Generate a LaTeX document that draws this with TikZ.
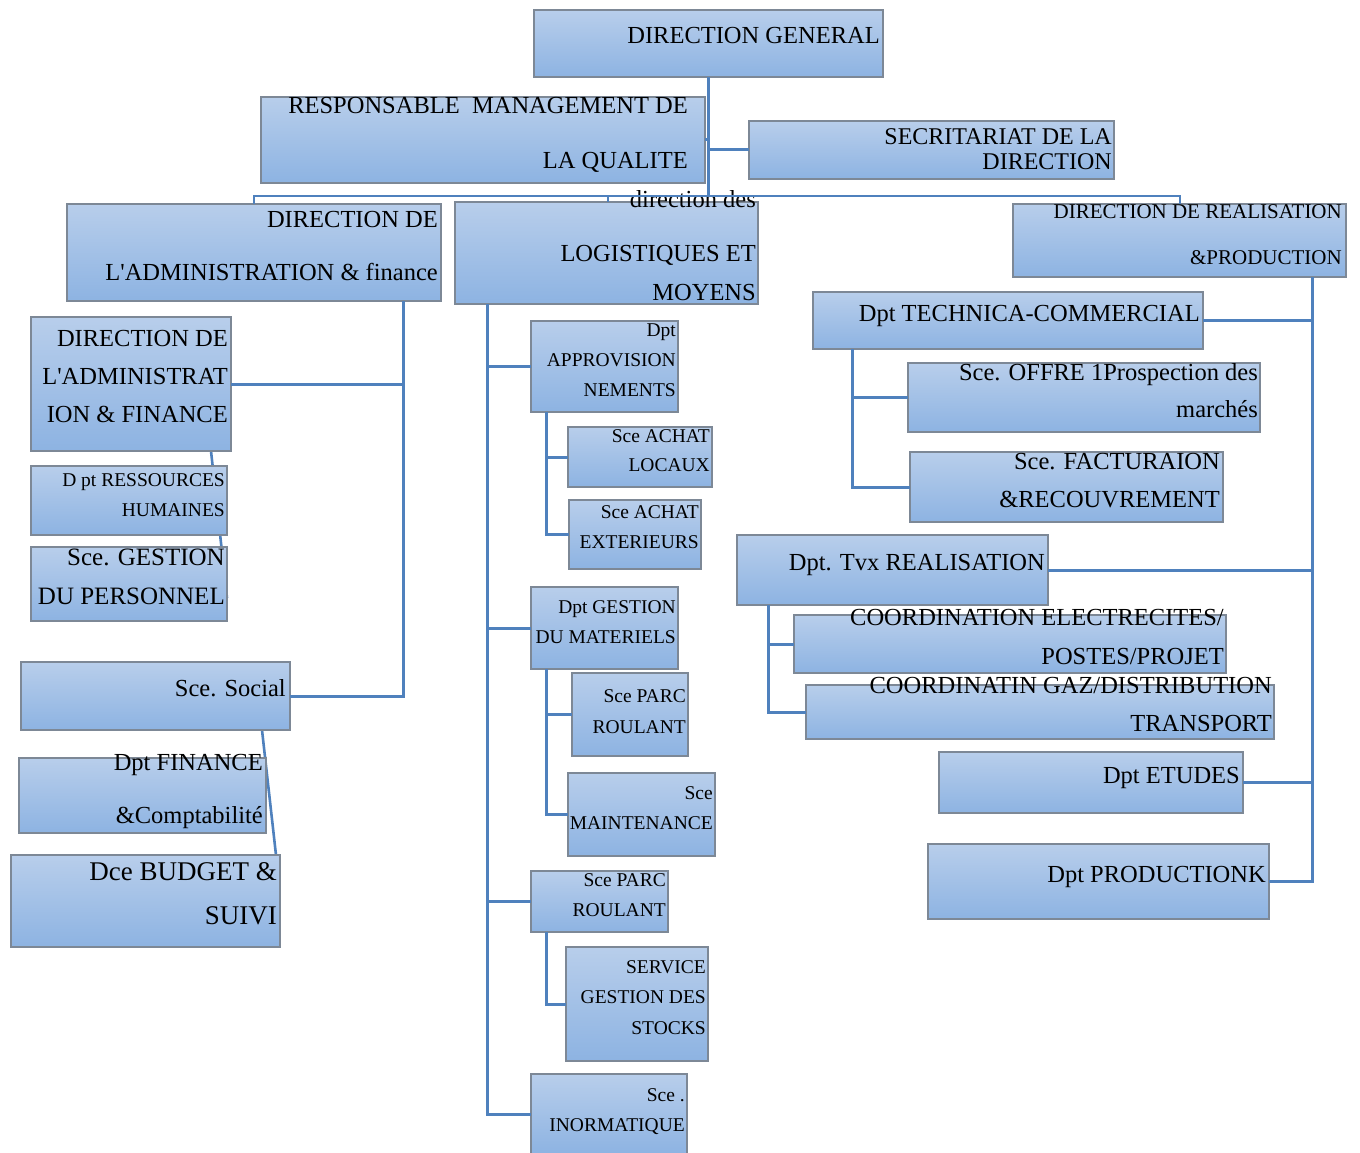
\documentclass[tikz,border=0pt]{standalone}
\usepackage{fontspec}
\setmainfont{Liberation Serif}[Ligatures=ResetAll]
\usetikzlibrary{fit,backgrounds}
\definecolor{linkblue}{RGB}{79,129,189}
\definecolor{boxtop}{RGB}{184,206,235}
\definecolor{boxbot}{RGB}{141,179,226}
\definecolor{boxedge}{RGB}{125,136,150}
\newcommand\fsz[1]{\fontsize{#1}{#1}\selectfont}
% straight typewriter-style apostrophe, taken straight from the font
\newcommand\apos{{\XeTeXglyph\XeTeXglyphindex "quotesingle"\relax}}
% box: name, x1, y1, x2, y2 (pixel-like units, y downwards)
\newcommand\orgbox[5]{\node[orgbox, fit={(#2,#3) (#4,#5)}] (#1) {};}
% text line: name, right x, baseline y, size, text
\newcommand\lbl[5]{\node[lbl, font=\fsz{#4}] (#1) at (#2,#3) {#5};}
\begin{document}
\begin{tikzpicture}[x=1pt,y=-1pt,
  orgbox/.style={draw=boxedge, line width=2.2pt, top color=boxtop, bottom color=boxbot, inner sep=0pt, outer sep=0pt},
  lbl/.style={anchor=base east, inner sep=0pt, text=black},
  conn/.style={draw=linkblue, line width=3pt},
  thinconn/.style={draw=linkblue, line width=2.6pt}]
\useasboundingbox (0,0) rectangle (1360,1153);

% ---- boxes ----
\orgbox{dg}{534}{10}{883}{77}
\orgbox{rmq}{261}{97}{705}{183}
\orgbox{sec}{749}{121}{1114}{179}
\orgbox{daf}{67}{204}{441}{301}
\orgbox{dlm}{455}{202}{758}{304}
\orgbox{drp}{1013}{204}{1346}{277}
% administration & finance
\orgbox{da2}{31}{317}{231}{451}
\orgbox{rh}{31}{466}{227}{535}
\orgbox{gp}{31}{547}{227}{621}
\orgbox{soc}{21}{662}{290}{730}
\orgbox{fin}{19}{758}{266}{833}
\orgbox{bud}{11}{855}{280}{947}
% logistics
\orgbox{app}{531}{321}{678}{412}
\orgbox{al}{568}{427}{712}{487}
\orgbox{ae}{569}{500}{701}{569}
\orgbox{gm}{531}{587}{678}{669}
\orgbox{pr1}{572}{673}{688}{756}
\orgbox{maint}{568}{773}{715}{856}
\orgbox{pr2}{531}{871}{668}{932}
\orgbox{sgs}{566}{947}{708}{1061}
\orgbox{inf}{531}{1074}{687}{1154}
% production
\orgbox{tc}{813}{292}{1203}{349}
\orgbox{off}{908}{363}{1260}{432}
\orgbox{fac}{910}{452}{1223}{522}
\orgbox{tvx}{737}{535}{1048}{605}
\orgbox{ce}{794}{615}{1226}{673}
\orgbox{cg}{806}{685}{1274}{739}
\orgbox{etu}{939}{752}{1243}{813}
\orgbox{prd}{928}{844}{1269}{919}

% ---- texts ----
\lbl{dg1}{880}{44}{24.5}{DIRECTION GENERAL}
\lbl{rmq1}{688}{114}{24.5}{RESPONSABLE\ \ MANAGEMENT DE}
\lbl{rmq2}{688}{168}{24.5}{LA QUALITE}
\lbl{sec1}{1112}{145}{24}{SECRITARIAT DE LA}
\lbl{sec2}{1112}{169}{24}{DIRECTION}
\lbl{daf1}{438}{227}{24.5}{DIRECTION DE}
\lbl{daf2}{438}{280}{24.5}{L\apos ADMINISTRATION \& finance}
\lbl{dlm1}{756}{207}{24.5}{direction des}
\lbl{dlm2}{756}{261}{24.5}{LOGISTIQUES ET}
\lbl{dlm3}{756}{300}{24.5}{MOYENS}
\lbl{drp1}{1342}{218}{21}{DIRECTION DE REALISATION}
\lbl{drp2}{1342}{264}{21}{\&PRODUCTION}

\lbl{da21}{228}{346}{24.5}{DIRECTION DE}
\lbl{da22}{228}{384}{24.5}{L\apos ADMINISTRAT}
\lbl{da23}{228}{422}{24.5}{ION \& FINANCE}
\lbl{rh1}{225}{486}{19.5}{D pt RESSOURCES}
\lbl{rh2}{225}{516}{19.5}{HUMAINES}
\lbl{gp1}{225}{565}{25}{Sce. GESTION}
\lbl{gp2}{225}{604}{25}{DU PERSONNEL}
\lbl{soc1}{286}{696}{24.5}{Sce. Social}
\lbl{fin1}{263}{770}{24.5}{Dpt FINANCE}
\lbl{fin2}{263}{823}{24.5}{\&Comptabilité}
\lbl{bud1}{277}{880}{27}{Dce BUDGET \&}
\lbl{bud2}{277}{924}{27}{SUIVI}

\lbl{app1}{676}{336}{19.5}{Dpt}
\lbl{app2}{676}{366}{19.5}{APPROVISION}
\lbl{app3}{676}{396}{19.5}{NEMENTS}
\lbl{al1}{710}{442}{19.5}{Sce ACHAT}
\lbl{al2}{710}{471}{19.5}{LOCAUX}
\lbl{ae1}{699}{518}{19.5}{Sce ACHAT}
\lbl{ae2}{699}{548}{19.5}{EXTERIEURS}
\lbl{gm1}{676}{613}{19.5}{Dpt GESTION}
\lbl{gm2}{676}{643}{19.5}{DU MATERIELS}
\lbl{pr11}{686}{702}{19.5}{Sce PARC}
\lbl{pr12}{686}{733}{19.5}{ROULANT}
\lbl{mt1}{713}{799}{19.5}{Sce}
\lbl{mt2}{713}{829}{19.5}{MAINTENANCE}
\lbl{pr21}{666}{886}{19.5}{Sce PARC}
\lbl{pr22}{666}{916}{19.5}{ROULANT}
\lbl{sgs1}{706}{973}{19.5}{SERVICE}
\lbl{sgs2}{706}{1003}{19.5}{GESTION DES}
\lbl{sgs3}{706}{1034}{19.5}{STOCKS}
\lbl{inf1}{685}{1101}{19.5}{Sce .}
\lbl{inf2}{685}{1131}{19.5}{INORMATIQUE}

\lbl{tc1}{1200}{321}{24.5}{Dpt TECHNICA-COMMERCIAL}
\lbl{off1}{1258}{380}{24.5}{Sce. OFFRE 1Prospection des}
\lbl{off2}{1258}{417}{24.5}{marchés}
\lbl{fac1}{1220}{469}{24.5}{Sce. FACTURAION}
\lbl{fac2}{1220}{507}{24.5}{\&RECOUVREMENT}
\lbl{tvx1}{1045}{570}{24.5}{Dpt. Tvx REALISATION}
\lbl{ce1}{1224}{625}{24.5}{COORDINATION ELECTRECITES/}
\lbl{ce2}{1224}{664}{24.5}{POSTES/PROJET}
\lbl{cg1}{1272}{693}{24.5}{COORDINATIN GAZ/DISTRIBUTION}
\lbl{cg2}{1272}{731}{24.5}{TRANSPORT}
\lbl{etu1}{1240}{783}{24.5}{Dpt ETUDES}
\lbl{prd1}{1266}{882}{24.5}{Dpt PRODUCTIONK}

% ---- connector anchors ----
\coordinate (busL) at (254,196);
\coordinate (busR) at (1180,196);
\coordinate (busM) at (608,196);
\coordinate (xA) at (403,0);
\coordinate (xB) at (487,0);
\coordinate (xC) at (546,0);
\coordinate (xD) at (1312,0);
\coordinate (xE) at (852,0);
\coordinate (xF) at (768,0);
\coordinate (hrA) at (211,0);
\coordinate (hrB) at (227,598);
\coordinate (sbA) at (262,0);
\coordinate (sbB) at (276,0);

% ---- connectors ----
\draw[conn] (dg.south) -- (dg.south |- busL);
\draw[conn] (rmq.east) -- (rmq.east -| dg.south);
\draw[conn] (sec.west) -- (sec.west -| dg.south);
\draw[thinconn] (daf.north -| busL) -- (busL) -- (busR) -- (drp.north -| busR);
\draw[thinconn] (busM) -- (dlm.north -| busM);

% administration & finance
\draw[conn] (daf.south -| xA) |- (soc.east);
\draw[conn] (da2.east) -- (da2.east -| xA);

% logistics
\draw[conn] (dlm.south -| xB) |- (inf.west);
\draw[conn] (app.west) -- (app.west -| xB);
\draw[conn] (gm.west) -- (gm.west -| xB);
\draw[conn] (pr2.west) -- (pr2.west -| xB);
\draw[conn] (app.south -| xC) |- (ae.west);
\draw[conn] (al.west) -- (al.west -| xC);
\draw[conn] (gm.south -| xC) |- (maint.west);
\draw[conn] (pr1.west) -- (pr1.west -| xC);
\draw[conn] (pr2.south -| xC) |- (sgs.west);

% production
\draw[conn] (drp.south -| xD) |- (prd.east);
\draw[conn] (tc.east) -- (tc.east -| xD);
\draw[conn] (tvx.east) -- (tvx.east -| xD);
\draw[conn] (etu.east) -- (etu.east -| xD);
\draw[conn] (tc.south -| xE) |- (fac.west);
\draw[conn] (off.west) -- (off.west -| xE);
\draw[conn] (tvx.south -| xF) |- (cg.west);
\draw[conn] (ce.west) -- (ce.west -| xF);

% slanted links running behind the left-hand boxes
\begin{scope}[on background layer]
  \draw[thinconn] (da2.south -| hrA) -- (hrB);
  \draw[thinconn] (soc.south -| sbA) -- (bud.north -| sbB);
\end{scope}
\end{tikzpicture}
\end{document}
